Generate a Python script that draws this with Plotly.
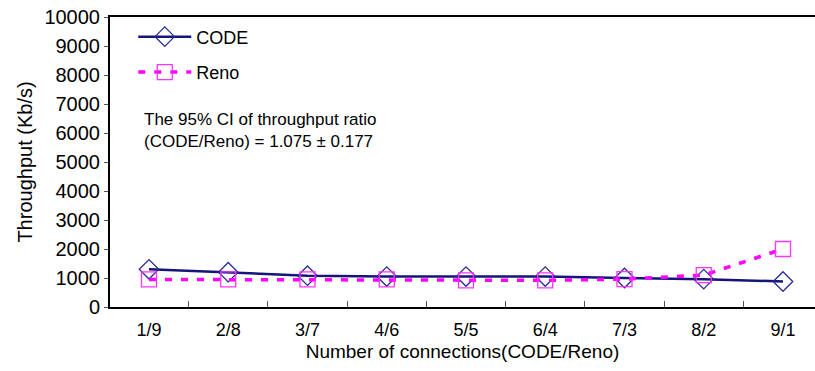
import plotly.graph_objects as go

categories = ["1/9", "2/8", "3/7", "4/6", "5/5", "6/4", "7/3", "8/2", "9/1"]
code_vals = [1300, 1200, 1080, 1050, 1050, 1050, 1000, 960, 880]
reno_vals = [950, 950, 950, 950, 920, 920, 960, 1100, 2000]
y_ticks = [0, 1000, 2000, 3000, 4000, 5000, 6000, 7000, 8000, 9000, 10000]

FONT = "Liberation Sans, Arial, sans-serif"

fig = go.Figure()
fig.add_trace(go.Scatter(
    x=categories, y=code_vals, name="CODE", mode="lines+markers", legendgroup="a",
    line=dict(color="#14147a", width=2.5),
    marker=dict(symbol="diamond-open", size=15, color="#2a2a9a", line=dict(width=1.3)),
))
fig.add_trace(go.Scatter(
    x=categories, y=reno_vals, name="Reno", mode="lines+markers", legendgroup="b",
    line=dict(color="#ff00ff", width=3.5, dash="7px,9px"),
    marker=dict(symbol="square-open", size=15, color="#ff33ff", line=dict(width=1.3)),
))

fig.add_annotation(
    xref="paper", yref="paper", x=0.045, y=0.685, xanchor="left", yanchor="top",
    text="The 95% CI of throughput ratio<br>(CODE/Reno) = 1.075 ± 0.177",
    showarrow=False, align="left", font=dict(family=FONT, size=17, color="black"),
)

fig.update_layout(
    width=815, height=371,
    margin=dict(l=110, r=0, t=17, b=64),
    paper_bgcolor="white", plot_bgcolor="white",
    font=dict(family=FONT, color="black"),
    showlegend=True,
    legend=dict(x=0.033, y=0.995, xanchor="left", yanchor="top",
                bgcolor="rgba(0,0,0,0)", font=dict(size=18, family=FONT),
                itemwidth=53, tracegroupgap=9),
    xaxis=dict(
        type="category", categoryorder="array", categoryarray=categories,
        range=[-0.492, 8.404],
        showline=True, linecolor="black", linewidth=2, mirror=True,
        ticks="inside", tickson="boundaries", ticklen=6, tickcolor="#555",
        showgrid=False, zeroline=False,
        tickfont=dict(size=18, family=FONT), ticklabelstandoff=5,
        title=dict(text="Number of connections(CODE/Reno)", font=dict(size=19, family=FONT), standoff=6),
    ),
    yaxis=dict(
        range=[0, 10000], tickvals=y_ticks, ticktext=[str(v) for v in y_ticks],
        showline=True, linecolor="black", linewidth=2,
        ticks="outside", ticklen=4, tickcolor="#555",
        showgrid=False, zeroline=False,
        tickfont=dict(size=20, family=FONT),
        title=dict(text="Throughput (Kb/s)", font=dict(size=20, family=FONT), standoff=6),
    ),
)

fig.write_html("out.html")
